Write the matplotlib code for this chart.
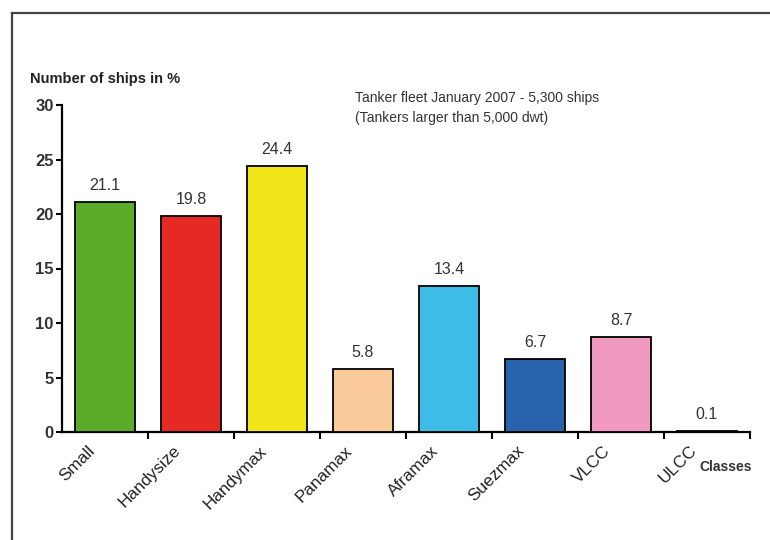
import matplotlib
matplotlib.use("Agg")
import matplotlib.pyplot as plt
from matplotlib.lines import Line2D

plt.rcParams['font.family'] = ['Liberation Sans', 'DejaVu Sans']

classes = ["Small", "Handysize", "Handymax", "Panamax", "Aframax", "Suezmax", "VLCC", "ULCC"]
shares = [21.1, 19.8, 24.4, 5.8, 13.4, 6.7, 8.7, 0.1]
colors = ["#5aab28", "#e52a25", "#f1e51a", "#f9c99a", "#3dbce8", "#2a63ad", "#f09ac0", "#222222"]
y_ticks = [0, 5, 10, 15, 20, 25, 30]

fig = plt.figure(figsize=(7.7, 5.4), dpi=100)
fig.patch.set_facecolor("white")

# outer frame (top and left edges)
fig.add_artist(Line2D([12/770, 1.0], [1 - 13/540, 1 - 13/540], color="#444444", lw=1.6,
                      transform=fig.transFigure))
fig.add_artist(Line2D([12/770, 12/770], [0.0, 1 - 13/540], color="#444444", lw=1.6,
                      transform=fig.transFigure))

ax = fig.add_axes([62/770, 1 - 432/540, 688/770, 327/540])
x = list(range(len(classes)))
ax.bar(x, shares, width=0.69, color=colors, edgecolor="black", linewidth=1.3, zorder=3)

for xi, v in zip(x, shares):
    ax.text(xi, v + 0.8, f"{v:.1f}", ha="center", va="bottom", fontsize=11.5, color="#333333")

ax.set_xlim(-0.5, 7.5)
ax.set_ylim(0, 30)
ax.set_yticks(y_ticks)
ax.set_yticklabels([str(t) for t in y_ticks], fontsize=12, fontweight="bold", color="#333333")
ax.tick_params(axis="y", direction="out", length=4, width=1.5, pad=2)

ax.set_xticks([i + 0.5 for i in x])
ax.set_xticklabels([])
ax.tick_params(axis="x", direction="out", length=5, width=1.5)

for xi, name in zip(x, classes):
    ax.text(xi - 0.21, -1.0, name, rotation=45, ha="right", va="top", fontsize=12.3,
            color="#222222", rotation_mode="anchor")

for s in ["top", "right"]:
    ax.spines[s].set_visible(False)
for s in ["left", "bottom"]:
    ax.spines[s].set_linewidth(1.6)

fig.text(30/770, 1 - 79/540, "Number of ships in %", fontsize=10.5, fontweight="bold",
         color="#222222", va="center", ha="left")
fig.text(699/770, 1 - 467/540, "Classes", fontsize=10, fontweight="bold",
         color="#333333", va="center", ha="left")
fig.text(355/770, 1 - 108/540, "Tanker fleet January 2007 - 5,300 ships\n(Tankers larger than 5,000 dwt)",
         fontsize=10, color="#333333", va="center", ha="left", linespacing=1.5)

fig.savefig("out.png", dpi=100, facecolor="white")
